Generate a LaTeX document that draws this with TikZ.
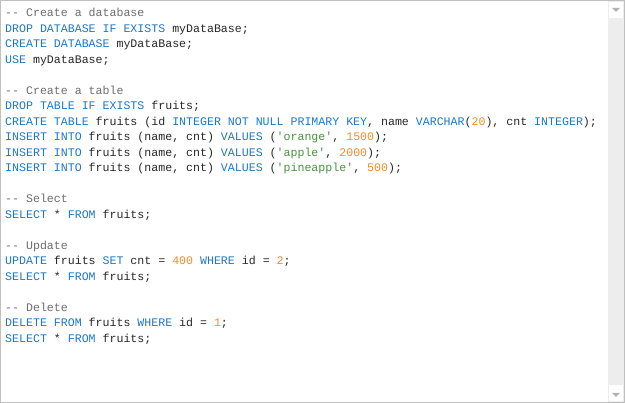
\documentclass[tikz,border=0pt]{standalone}
\usepackage{fontspec}
\setmonofont{Liberation Mono}
\definecolor{kw}{RGB}{30,120,200}
\definecolor{cm}{RGB}{110,110,110}
\definecolor{st}{RGB}{70,150,60}
\definecolor{nm}{RGB}{240,140,40}
\definecolor{tx}{RGB}{40,40,40}
\newcommand{\K}[1]{\textcolor{kw}{#1}}
\newcommand{\C}[1]{\textcolor{cm}{#1}}
\newcommand{\Sq}[1]{\textcolor{st}{#1}}
\newcommand{\N}[1]{\textcolor{nm}{#1}}
\begin{document}
\begin{tikzpicture}[x=1pt,y=1pt,
  codeline/.style={anchor=base west,inner sep=0pt,font=\fontsize{11.6}{13}\ttfamily,text=tx}]
\useasboundingbox (0,0) rectangle (625,403);
\draw[fill=white,draw=black!25] (0.5,0.5) rectangle (624.5,402.5);
\fill[black!7] (608,1) rectangle (624,402);
\fill[white] (609,385) rectangle (623,401);
\fill[white] (609,2) rectangle (623,18);
\fill[black!30] (612,395) -- (620,395) -- (616,391) -- cycle;
\fill[black!30] (612,10) -- (620,10) -- (616,6) -- cycle;
\def\L#1#2{\node[codeline] (l#1) at (5,{403-17-#1*15.5}) {#2};}
\L{0}{\C{-- Create a database}}
\L{1}{\K{DROP DATABASE IF EXISTS} myDataBase;}
\L{2}{\K{CREATE DATABASE} myDataBase;}
\L{3}{\K{USE} myDataBase;}
\L{5}{\C{-- Create a table}}
\L{6}{\K{DROP TABLE IF EXISTS} fruits;}
\L{7}{\K{CREATE TABLE} fruits (id \K{INTEGER NOT NULL PRIMARY KEY}, name \K{VARCHAR}(\N{20}), cnt \K{INTEGER});}
\L{8}{\K{INSERT INTO} fruits (name, cnt) \K{VALUES} (\Sq{'orange'}, \N{1500});}
\L{9}{\K{INSERT INTO} fruits (name, cnt) \K{VALUES} (\Sq{'apple'}, \N{2000});}
\L{10}{\K{INSERT INTO} fruits (name, cnt) \K{VALUES} (\Sq{'pineapple'}, \N{500});}
\L{12}{\C{-- Select}}
\L{13}{\K{SELECT} * \K{FROM} fruits;}
\L{15}{\C{-- Update}}
\L{16}{\K{UPDATE} fruits \K{SET} cnt = \N{400} \K{WHERE} id = \N{2};}
\L{17}{\K{SELECT} * \K{FROM} fruits;}
\L{19}{\C{-- Delete}}
\L{20}{\K{DELETE FROM} fruits \K{WHERE} id = \N{1};}
\L{21}{\K{SELECT} * \K{FROM} fruits;}
\end{tikzpicture}
\end{document}
